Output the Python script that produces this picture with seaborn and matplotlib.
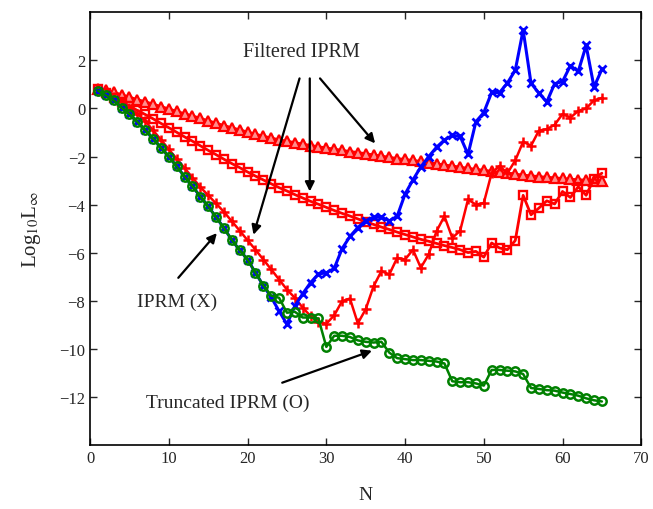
import matplotlib
matplotlib.use('Agg')
import matplotlib.pyplot as plt
import numpy as np
import pandas as pd
import seaborn as sns

# N = 1..65
N = list(range(1, 66))

# IPRM (X) - blue, shares the first points with the truncated one
iprm = [0.74, 0.55, 0.34, 0.03, -0.24, -0.55, -0.9, -1.25, -1.63, -2.0,
        -2.41, -2.83, -3.24, -3.66, -4.07, -4.52, -4.97, -5.47, -5.89, -6.28,
        -6.83, -7.36, -7.85, -8.42, -8.97, -8.21, -7.7, -7.24, -6.88, -6.83,
        -6.65, -5.83, -5.32, -4.95, -4.67, -4.52, -4.52, -4.67, -4.48, -3.56,
        -2.97, -2.43, -2.0, -1.61, -1.31, -1.12, -1.16, -1.91, -0.55, -0.17,
        0.67, 0.66, 1.06, 1.59, 3.26, 1.05, 0.64, 0.27, 1.03, 1.12,
        1.78, 1.54, 2.62, 0.89, 1.63]

# Truncated IPRM (O) - green
truncated = [0.74, 0.55, 0.34, 0.03, -0.24, -0.55, -0.9, -1.25, -1.63, -2.0,
             -2.41, -2.83, -3.24, -3.66, -4.07, -4.52, -4.97, -5.47, -5.89, -6.28,
             -6.83, -7.36, -7.78, -7.87, -8.49, -8.45, -8.69, -8.69, -8.73, -9.91,
             -9.45, -9.45, -9.5, -9.64, -9.7, -9.73, -9.7, -10.15, -10.38, -10.42,
             -10.46, -10.46, -10.49, -10.52, -10.6, -11.34, -11.38, -11.38, -11.43, -11.52,
             -10.87, -10.87, -10.9, -10.93, -11.04, -11.62, -11.66, -11.71, -11.73, -11.81,
             -11.87, -11.94, -12.05, -12.13, -12.18]

# Filtered IPRM, three filters - red
filt_plus = [0.8, 0.66, 0.46, 0.27, 0.02, -0.22, -0.52, -0.91, -1.3, -1.7,
             -2.09, -2.48, -2.87, -3.27, -3.61, -3.95, -4.3, -4.69, -5.08, -5.48,
             -5.87, -6.28, -6.69, -7.11, -7.53, -7.87, -8.28, -8.63, -8.86, -8.95,
             -8.6, -8.01, -7.9, -8.93, -8.35, -7.39, -6.76, -6.9, -6.21, -6.28,
             -5.87, -6.62, -6.07, -5.1, -4.48, -5.38, -5.08, -3.78, -4.0, -3.93,
             -2.68, -2.39, -2.69, -2.16, -1.38, -1.55, -0.92, -0.86, -0.68, -0.23,
             -0.38, -0.1, 0.0, 0.34, 0.44]

filt_square = [0.8, 0.63, 0.45, 0.28, 0.1, -0.08, -0.25, -0.43, -0.62, -0.8,
               -0.99, -1.18, -1.36, -1.55, -1.74, -1.92, -2.11, -2.29, -2.46, -2.64,
               -2.81, -2.97, -3.13, -3.29, -3.43, -3.58, -3.72, -3.86, -3.98, -4.11,
               -4.24, -4.36, -4.47, -4.59, -4.71, -4.82, -4.93, -5.03, -5.14, -5.24,
               -5.34, -5.44, -5.52, -5.61, -5.7, -5.78, -5.87, -5.99, -5.94, -6.18,
               -5.59, -5.8, -5.87, -5.49, -3.61, -4.42, -4.14, -3.84, -3.97, -3.45,
               -3.7, -3.25, -3.61, -2.92, -2.69]

filt_triangle = [0.8, 0.77, 0.67, 0.57, 0.47, 0.37, 0.28, 0.18, 0.08, -0.02,
                 -0.12, -0.22, -0.31, -0.41, -0.51, -0.61, -0.71, -0.8, -0.89, -0.98,
                 -1.07, -1.15, -1.23, -1.3, -1.36, -1.42, -1.48, -1.54, -1.59, -1.64,
                 -1.69, -1.74, -1.79, -1.83, -1.88, -1.93, -1.98, -2.03, -2.08, -2.12,
                 -2.16, -2.2, -2.25, -2.3, -2.35, -2.39, -2.44, -2.49, -2.53, -2.57,
                 -2.61, -2.65, -2.69, -2.73, -2.77, -2.8, -2.83, -2.86, -2.88, -2.91,
                 -2.94, -2.96, -2.98, -3.0, -3.02]

X_TICKS = [0, 10, 20, 30, 40, 50, 60, 70]
Y_TICKS = [-12, -10, -8, -6, -4, -2, 0, 2]

df = pd.DataFrame({'N': N, 'iprm': iprm, 'truncated': truncated,
                   'plus': filt_plus, 'square': filt_square, 'triangle': filt_triangle})

sns.set_style('ticks')
plt.rcParams['font.family'] = ['Liberation Serif', 'DejaVu Serif']
plt.rcParams['mathtext.fontset'] = 'stix'

fig = plt.figure(figsize=(6.53, 5.10), dpi=100)
ax = fig.add_axes([0.138, 0.125, 0.844, 0.849])

RED = (1, 0, 0)
BLUE = (0, 0, 1)
GREEN = (0, 0.5, 0)

# red filtered curves first, then blue and green on top
sns.lineplot(data=df, x='N', y='triangle', ax=ax, color=RED, lw=2, marker='^',
             markersize=7, markerfacecolor=(1, 0.55, 0.55), markeredgecolor=RED, markeredgewidth=1.6)
sns.lineplot(data=df, x='N', y='square', ax=ax, color=RED, lw=2, marker='s',
             markersize=6, markerfacecolor='none', markeredgecolor=RED, markeredgewidth=1.7)
sns.lineplot(data=df, x='N', y='plus', ax=ax, color=RED, lw=1.8, marker='+',
             markersize=7.5, markeredgecolor=RED, markeredgewidth=1.8)
sns.lineplot(data=df, x='N', y='iprm', ax=ax, color=BLUE, lw=2.2, marker='x',
             markersize=6, markeredgecolor=BLUE, markeredgewidth=2)
sns.lineplot(data=df, x='N', y='truncated', ax=ax, color=GREEN, lw=1.8, marker='o',
             markersize=6, markerfacecolor='none', markeredgecolor=GREEN, markeredgewidth=1.8)

ax.set_xlim(0, 70)
ax.set_ylim(-14, 4)
ax.set_xticks(X_TICKS)
ax.set_yticks(Y_TICKS)
ax.tick_params(direction='in', top=True, right=True, length=5, width=1, labelsize=12)
for s in ax.spines.values():
    s.set_linewidth(1.2)
    s.set_color('black')

ax.set_xlabel('N', fontsize=14, labelpad=14)
ax.set_ylabel(r'Log$_{10}$L$_{\infty}$', fontsize=15, labelpad=12)

# annotations
arrow = dict(arrowstyle='-|>', color='black', lw=1.6, mutation_scale=14, shrinkA=0, shrinkB=0)
ax.text(26.9, 2.35, 'Filtered IPRM', fontsize=14.5, ha='center', va='center')
ax.annotate('', xy=(20.75, -5.25), xytext=(26.6, 1.25), arrowprops=arrow)
ax.annotate('', xy=(27.9, -3.45), xytext=(27.9, 1.25), arrowprops=arrow)
ax.annotate('', xy=(36.2, -1.45), xytext=(29.2, 1.25), arrowprops=arrow)

ax.text(11.0, -8.0, 'IPRM (X)', fontsize=14, ha='center', va='center')
ax.annotate('', xy=(16.1, -5.18), xytext=(11.2, -7.04), arrowprops=arrow)

ax.text(17.5, -12.2, 'Truncated IPRM (O)', fontsize=14, ha='center', va='center')
ax.annotate('', xy=(35.8, -10.07), xytext=(24.4, -11.4), arrowprops=arrow)

fig.savefig('out.png', dpi=100)
